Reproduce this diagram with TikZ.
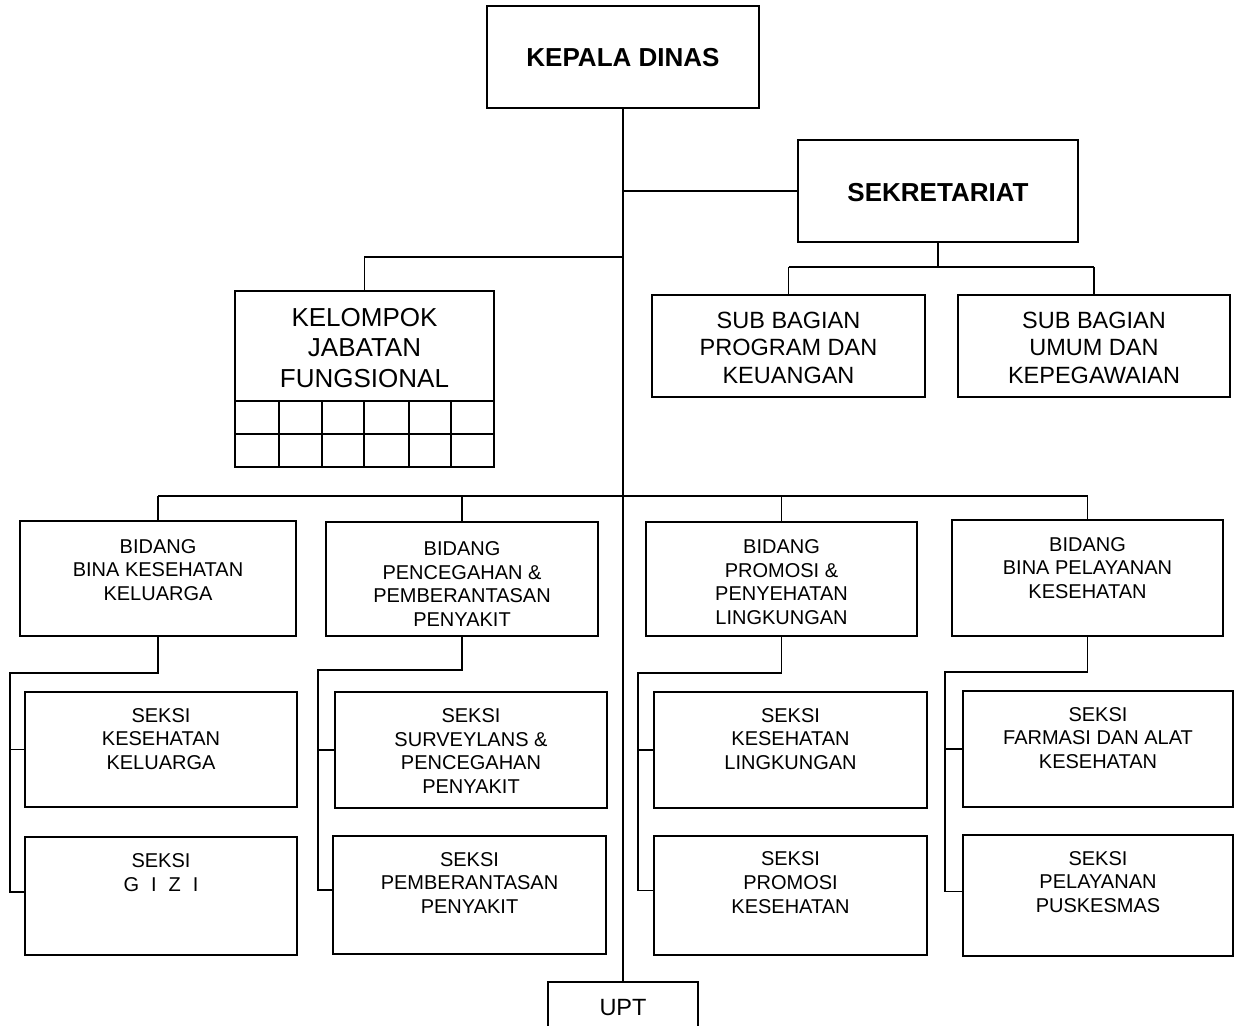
\documentclass[tikz,border=0pt]{standalone}
\usepackage{fontspec}
\setmainfont{Liberation Sans}
\newcommand\orgbox[5]{\node[box, minimum width={(#4)-(#2)}, minimum height={(#5)-(#3)}] (#1) at (#2,#3) {};}
\begin{document}
\begin{tikzpicture}[x=1pt,y=-1pt, line width=1.5pt,
  box/.style={draw, line width=1.5pt, inner sep=0pt, outer sep=0pt, anchor=north west},
  lbl/.style={align=center, inner sep=0pt, font=\fontsize{20}{23.7}\selectfont},
  big/.style={align=center, inner sep=0pt, font=\fontsize{26}{30.5}\selectfont},
  mid/.style={align=center, inner sep=0pt, font=\fontsize{23.5}{27.5}\selectfont}]
\useasboundingbox (0,0) rectangle (1235,1026);
\clip (0,0) rectangle (1235,1026);

% boxes
\orgbox{kd}{487}{6}{759}{108}
\orgbox{sek}{798}{140}{1078}{242}
\orgbox{sb1}{652}{295}{925}{397}
\orgbox{sb2}{958}{295}{1230}{397}
\orgbox{kjf}{235}{291}{494}{467}
\orgbox{b1}{20}{521}{296}{636}
\orgbox{b2}{326}{522}{598}{636}
\orgbox{b3}{646}{522}{917}{636}
\orgbox{b4}{952}{520}{1223}{636}
\orgbox{s1}{25}{692}{297}{807}
\orgbox{s2}{25}{837}{297}{955}
\orgbox{s3}{335}{692}{607}{808}
\orgbox{s4}{333}{836}{606}{954}
\orgbox{s5}{654}{692}{927}{808}
\orgbox{s6}{654}{836}{927}{955}
\orgbox{s7}{963}{691}{1233}{807}
\orgbox{s8}{963}{835}{1233}{956}
\orgbox{upt}{548}{982}{698}{1050}

% grid of kelompok jabatan fungsional
\draw (235,401) -- (494,401);
\draw (235,434) -- (494,434);
\foreach \gx in {279,322,364,409,451} \draw (\gx,401) -- (\gx,467);

% main connectors
\draw (kd.south) -- (kd.south |- upt.north);
\draw (kd.south |- sek.west) -- (sek.west);
\coordinate (kj) at (624,257);
\draw (kd.south |- kj) -| (kjf.north);
\coordinate (sbbus) at (0,267);
\draw (sek.south) -- (sek.south |- sbbus);
\draw (sb1.north |- sbbus) -- (sb2.north |- sbbus);
\draw (sb1.north |- sbbus) -- (sb1.north);
\draw (sb2.north |- sbbus) -- (sb2.north);
\coordinate (bbus) at (0,496);
\draw (b1.north |- bbus) -- (b4.north |- bbus);
\foreach \b in {b1,b2,b3,b4} \draw (\b.north |- bbus) -- (\b.north);

% second level connectors
\coordinate (sp1) at (10,673);
\coordinate (sp2) at (318,670);
\coordinate (sp3) at (638,673);
\coordinate (sp4) at (945,672);
\draw (b1.south) |- (sp1) |- ([yshift=4pt]s2.west);
\draw (sp1 |- s1.west) -- (s1.west);
\draw (b2.south) |- (sp2) |- ([yshift=5pt]s4.west);
\draw (sp2 |- s3.west) -- (s3.west);
\draw (b3.south) |- (sp3) |- ([yshift=5pt]s6.west);
\draw (sp3 |- s5.west) -- (s5.west);
\draw (b4.south) |- (sp4) |- ([yshift=4pt]s8.west);
\draw (sp4 |- s7.west) -- (s7.west);

% texts
\node[big] (kd-t) at (623,57.5) {\bfseries KEPALA DINAS};
\node[big] (sek-t) at (938,193) {\bfseries SEKRETARIAT};
\node[mid] (sb1-t) at (788.5,347.5) {SUB BAGIAN\\PROGRAM DAN\\KEUANGAN};
\node[mid] (sb2-t) at (1094,347.5) {SUB BAGIAN\\UMUM DAN\\KEPEGAWAIAN};
\node[big] (kjf-t) at (364.5,348) {KELOMPOK\\JABATAN\\FUNGSIONAL};
\node[lbl] (b1-t) at (158,570) {BIDANG\\BINA KESEHATAN\\KELUARGA};
\begin{scope}
\clip (326,522) rectangle (598,625.5);
\node[lbl] (b2-t) at (462,584) {BIDANG\\PENCEGAHAN \&\\PEMBERANTASAN\\PENYAKIT};
\end{scope}
\node[lbl] (b3-t) at (781.5,582) {BIDANG\\PROMOSI \&\\PENYEHATAN\\LINGKUNGAN};
\node[lbl] (b4-t) at (1087.5,568) {BIDANG\\BINA PELAYANAN\\KESEHATAN};
\node[lbl] (s1-t) at (161,739) {SEKSI\\KESEHATAN\\KELUARGA};
\node[lbl] (s2-t) at (161,872.5) {SEKSI\\G\hspace{12pt}I\hspace{12pt}Z\hspace{12pt}I};
\node[lbl] (s3-t) at (471,751) {SEKSI\\SURVEYLANS \&\\PENCEGAHAN\\PENYAKIT};
\node[lbl] (s4-t) at (469.5,883) {SEKSI\\PEMBERANTASAN\\PENYAKIT};
\node[lbl] (s5-t) at (790.5,739) {SEKSI\\KESEHATAN\\LINGKUNGAN};
\node[lbl] (s6-t) at (790.5,882.5) {SEKSI\\PROMOSI\\KESEHATAN};
\node[lbl] (s7-t) at (1098,738) {SEKSI\\FARMASI DAN ALAT\\KESEHATAN};
\node[lbl] (s8-t) at (1098,882) {SEKSI\\PELAYANAN\\PUSKESMAS};
\node[mid] (upt-t) at (623,1007.5) {UPT};
\end{tikzpicture}
\end{document}
